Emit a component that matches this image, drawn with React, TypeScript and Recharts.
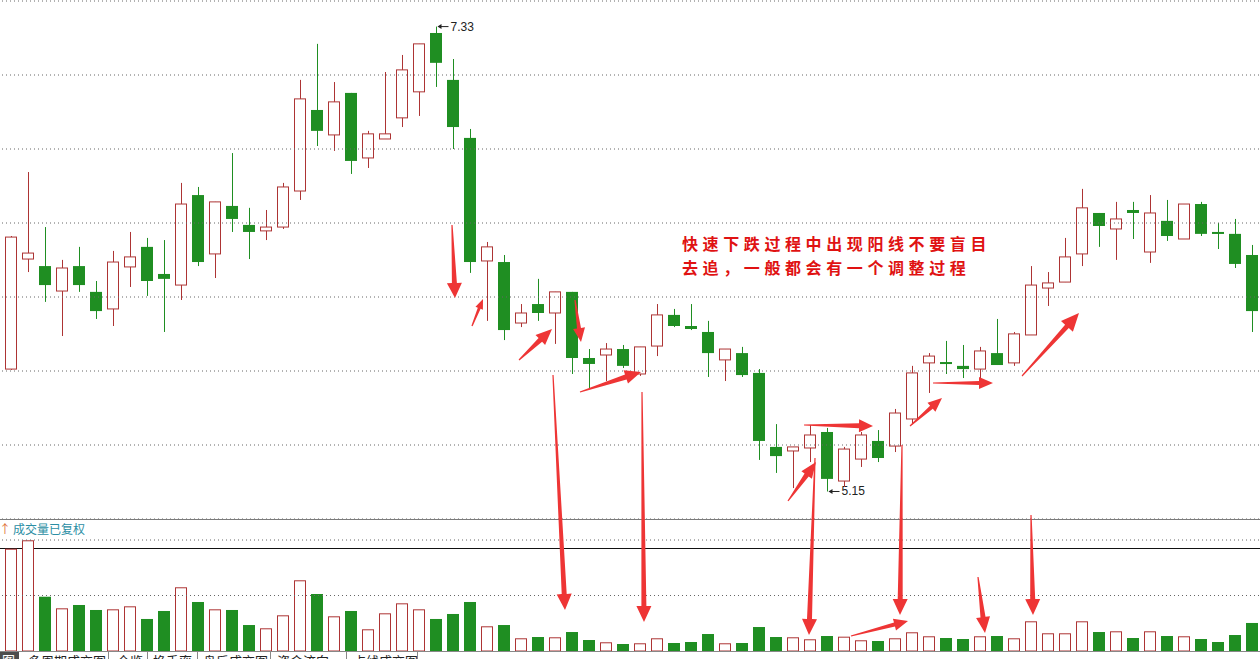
import React from 'react'
import { ComposedChart, Bar, XAxis, YAxis, ReferenceLine } from 'recharts'

// daily OHLC (first entry is the clipped candle at the left edge)
const opens = [6.137, 5.724, 6.240, 6.207, 6.090, 6.207, 6.086, 6.006, 6.203, 6.297, 6.170, 6.118, 6.540, 6.264, 6.489, 6.400, 6.372, 6.390, 6.559, 6.939, 6.822, 7.019, 6.714, 6.803, 6.902, 7.024, 7.300, 7.080, 6.808, 6.231, 6.226, 5.940, 6.029, 5.987, 6.086, 5.776, 5.790, 5.818, 5.701, 5.832, 5.978, 5.926, 5.898, 5.767, 5.799, 5.706, 5.359, 5.340, 5.354, 5.429, 5.199, 5.302, 5.387, 5.363, 5.490, 5.753, 5.757, 5.739, 5.724, 5.799, 5.753, 5.884, 6.104, 6.132, 6.264, 6.456, 6.381, 6.470, 6.273, 6.419, 6.334, 6.498, 6.367, 6.358, 6.259]
const highs = [6.137, 6.348, 6.648, 6.390, 6.236, 6.297, 6.137, 6.278, 6.367, 6.339, 6.329, 6.597, 6.578, 6.508, 6.737, 6.480, 6.470, 6.597, 7.080, 7.249, 7.070, 7.019, 6.841, 7.117, 7.197, 7.249, 7.330, 7.178, 6.850, 6.320, 6.259, 6.029, 6.147, 6.086, 6.086, 5.818, 5.846, 5.837, 5.828, 6.029, 6.006, 6.029, 5.950, 5.818, 5.828, 5.724, 5.466, 5.359, 5.462, 5.448, 5.359, 5.429, 5.438, 5.537, 5.739, 5.799, 5.856, 5.837, 5.828, 5.959, 5.898, 6.207, 6.179, 6.339, 6.569, 6.456, 6.508, 6.508, 6.540, 6.517, 6.498, 6.508, 6.409, 6.428, 6.306]
const lows = [5.720, 5.720, 6.179, 6.039, 5.879, 6.086, 5.959, 5.926, 6.109, 6.067, 5.898, 6.048, 6.207, 6.151, 6.367, 6.240, 6.329, 6.381, 6.517, 6.770, 6.747, 6.639, 6.667, 6.803, 6.859, 6.911, 7.047, 6.756, 6.175, 5.950, 5.860, 5.921, 5.950, 5.842, 5.701, 5.635, 5.668, 5.729, 5.692, 5.785, 5.921, 5.907, 5.687, 5.668, 5.687, 5.298, 5.237, 5.166, 5.288, 5.150, 5.171, 5.265, 5.288, 5.335, 5.466, 5.612, 5.701, 5.682, 5.659, 5.743, 5.739, 5.884, 6.020, 6.132, 6.207, 6.297, 6.236, 6.334, 6.222, 6.325, 6.334, 6.348, 6.287, 6.198, 5.898]
const closes = [5.729, 6.343, 6.268, 6.118, 6.198, 6.118, 5.996, 6.226, 6.250, 6.137, 6.147, 6.498, 6.226, 6.508, 6.428, 6.367, 6.390, 6.578, 6.991, 6.841, 6.977, 6.700, 6.827, 6.827, 7.127, 7.249, 7.160, 6.859, 6.226, 6.297, 5.907, 5.987, 5.987, 6.086, 5.776, 5.748, 5.818, 5.739, 5.828, 5.978, 5.926, 5.912, 5.799, 5.818, 5.696, 5.387, 5.316, 5.359, 5.415, 5.209, 5.349, 5.415, 5.307, 5.518, 5.706, 5.785, 5.748, 5.724, 5.809, 5.743, 5.889, 6.118, 6.128, 6.250, 6.480, 6.395, 6.428, 6.456, 6.456, 6.348, 6.498, 6.358, 6.358, 6.217, 5.996]
const volumes = [66.7, 184.3, 199.5, 97.8, 76.9, 82.9, 73.9, 75.1, 80.5, 57.7, 72.1, 114.8, 88.3, 75.1, 73.9, 46.8, 40.9, 64.3, 127.4, 102.7, 62.5, 72.1, 39.1, 67.9, 85.9, 75.1, 57.7, 66.7, 88.3, 44.5, 46.8, 22.9, 25.2, 24.7, 34.2, 19.8, 15.7, 12.6, 13.9, 22.9, 14.4, 16.2, 30.6, 13.9, 14.4, 43.2, 25.2, 24.7, 21.1, 27, 25.8, 19.3, 18, 22.9, 33.7, 26.5, 23.4, 21.6, 26.5, 27, 22.9, 53.5, 31.9, 31.9, 53.5, 34.2, 35.5, 23.4, 35.5, 27, 26.5, 21.6, 16.2, 28.8, 50.5]

const PRICE_MIN = 5.021
const PRICE_MAX = 7.45
const priceGrid = [5.021, 5.368, 5.715, 6.062, 6.409, 6.756, 7.103, 7.45]
const volGrid = [100, 200]

const noteLines = ['快速下跌过程中出现阳线不要盲目', '去追，一般都会有一个调整过程']
const tabs = [
  { label: '多周期成交图', left: 28 },
  { label: '全览', left: 117 },
  { label: '换手率', left: 153 },
  { label: '盘后成交图', left: 203 },
  { label: '资金流向', left: 277 },
  { label: '点线成交图', left: 353 },
]
const tabSeps = [108, 147, 197, 270, 346, 417]

// hand drawn red arrows over the screenshot
const arrows = [
  { x1: 452, y1: 225, x2: 455, y2: 298, head: 15, hw: 15, sw: 5 },
  { x1: 472, y1: 326, x2: 483, y2: 299, head: 10, hw: 8, sw: 3 },
  { x1: 519, y1: 360, x2: 552, y2: 329, head: 16, hw: 14, sw: 5 },
  { x1: 575, y1: 300, x2: 581, y2: 342, head: 14, hw: 12, sw: 4 },
  { x1: 580, y1: 392, x2: 641, y2: 372, head: 16, hw: 14, sw: 5 },
  { x1: 553, y1: 375, x2: 565, y2: 610, head: 16, hw: 15, sw: 5 },
  { x1: 642, y1: 392, x2: 644, y2: 622, head: 16, hw: 15, sw: 5 },
  { x1: 788, y1: 501, x2: 816, y2: 462, head: 16, hw: 13, sw: 5 },
  { x1: 804, y1: 425, x2: 873, y2: 426, head: 14, hw: 13, sw: 5 },
  { x1: 815, y1: 458, x2: 809, y2: 635, head: 16, hw: 15, sw: 5 },
  { x1: 851, y1: 636, x2: 908, y2: 621, head: 14, hw: 12, sw: 4 },
  { x1: 902, y1: 445, x2: 900, y2: 615, head: 16, hw: 15, sw: 5 },
  { x1: 910, y1: 426, x2: 942, y2: 398, head: 14, hw: 12, sw: 4 },
  { x1: 933, y1: 383, x2: 993, y2: 383, head: 14, hw: 12, sw: 4 },
  { x1: 978, y1: 577, x2: 985, y2: 633, head: 16, hw: 14, sw: 5 },
  { x1: 1031, y1: 515, x2: 1033, y2: 615, head: 16, hw: 15, sw: 5 },
  { x1: 1022, y1: 376, x2: 1079, y2: 313, head: 18, hw: 16, sw: 5 },
]

const RED = '#ad3434'
const GREEN = '#1f8e22'
const ARROW = '#ee3535'

const candles = opens.map((o, i) => ({
  day: 'd' + i,
  open: o,
  high: highs[i],
  low: lows[i],
  close: closes[i],
  range: [lows[i], highs[i]],
  vol: volumes[i],
  up: closes[i] > o,
}))

const maxHigh = Math.max(...highs)
const minLow = Math.min(...lows)

function ExtremeLabel({ x, y, text }: any) {
  return (
    <g>
      <line x1={x + 2} x2={x + 12} y1={y} y2={y} stroke="#222" strokeWidth={1} />
      <path d={`M${x + 1},${y} L${x + 5},${y - 2.5} L${x + 5},${y + 2.5} Z`} fill="#222" />
      <text x={x + 14} y={y} dominantBaseline="central" fontSize={12} fill="#222" fontFamily="Liberation Sans, Arial, sans-serif">{text}</text>
    </g>
  )
}

function Candle(props: any) {
  const { x, y, width, height, payload } = props
  if (!payload) return null
  const top = Math.min(y, y + height)
  const h = Math.abs(height)
  const span = payload.high - payload.low || 1
  const toY = (p: number) => top + ((payload.high - p) / span) * h
  const cx = x + width / 2
  const color = payload.up ? RED : GREEN
  const bTop = toY(Math.max(payload.open, payload.close))
  const bBot = toY(Math.min(payload.open, payload.close))
  return (
    <g>
      <line x1={cx} x2={cx} y1={top} y2={top + h} stroke={color} strokeWidth={1} />
      {payload.up ? (
        <rect x={cx - 6} y={bTop} width={11} height={Math.max(bBot - bTop, 1)} fill="#fff" stroke={color} strokeWidth={1} />
      ) : (
        <rect x={cx - 6.5} y={bTop} width={12} height={Math.max(bBot - bTop, 2)} fill={color} />
      )}
      {payload.high === maxHigh && <ExtremeLabel x={cx} y={top} text={maxHigh.toFixed(2)} />}
      {payload.low === minLow && <ExtremeLabel x={cx} y={top + h} text={minLow.toFixed(2)} />}
    </g>
  )
}

function VolBar(props: any) {
  const { x, y, width, height, payload } = props
  if (!payload) return null
  const cx = x + width / 2
  if (payload.up) {
    return <rect x={cx - 6} y={y + 0.5} width={11} height={Math.max(height - 0.5, 1)} fill="#fff" stroke={RED} strokeWidth={1} />
  }
  return <rect x={cx - 6.5} y={y} width={12} height={height} fill={GREEN} />
}

function arrowPoints(a: any) {
  const dx = a.x2 - a.x1
  const dy = a.y2 - a.y1
  const len = Math.hypot(dx, dy)
  const ux = dx / len, uy = dy / len
  const nx = -uy, ny = ux
  const bx = a.x2 - ux * a.head, by = a.y2 - uy * a.head
  const pts = [
    [a.x1 + nx * 0.6, a.y1 + ny * 0.6],
    [bx + (nx * a.sw) / 2, by + (ny * a.sw) / 2],
    [bx + (nx * a.hw) / 2, by + (ny * a.hw) / 2],
    [a.x2, a.y2],
    [bx - (nx * a.hw) / 2, by - (ny * a.hw) / 2],
    [bx - (nx * a.sw) / 2, by - (ny * a.sw) / 2],
    [a.x1 - nx * 0.6, a.y1 - ny * 0.6],
  ]
  return pts.map(p => p[0].toFixed(1) + ',' + p[1].toFixed(1)).join(' ')
}

export default function App() {
  const cjk = '"Noto Sans CJK SC", sans-serif'
  return (
    <div style={{ position: 'absolute', left: 0, top: 0, width: 1260, height: 659, overflow: 'hidden', background: '#fff' }}>
      {/* price panel */}
      <div style={{ position: 'absolute', left: -14, top: 0 }}>
        <ComposedChart width={1275} height={520} data={candles} margin={{ top: 1, right: 0, bottom: 1, left: 0 }} barCategoryGap={0}>
          <XAxis dataKey="day" hide />
          <YAxis type="number" domain={[PRICE_MIN, PRICE_MAX]} hide allowDataOverflow />
          {priceGrid.map(v => (
            <ReferenceLine key={v} y={v} stroke="#666" strokeDasharray="1 3" />
          ))}
          <Bar dataKey="range" isAnimationActive={false} shape={(p: any) => <Candle {...p} />} />
        </ComposedChart>
      </div>

      <div style={{ position: 'absolute', left: 0, top: 519, width: 1260, height: 1, background: '#7a7a7a' }} />
      <div style={{ position: 'absolute', left: 0, top: 548, width: 1260, height: 1, background: '#111' }} />

      {/* volume panel */}
      <div style={{ position: 'absolute', left: -14, top: 538 }}>
        <ComposedChart width={1275} height={113} data={candles} margin={{ top: 2, right: 0, bottom: 0, left: 0 }} barCategoryGap={0}>
          <XAxis dataKey="day" hide />
          <YAxis type="number" domain={[0, 200]} hide allowDataOverflow />
          {volGrid.map(v => (
            <ReferenceLine key={v} y={v} stroke="#666" strokeDasharray="1 3" />
          ))}
          <Bar dataKey="vol" isAnimationActive={false} shape={(p: any) => <VolBar {...p} />} />
        </ComposedChart>
      </div>

      <div style={{ position: 'absolute', left: -1, top: 521, fontSize: 12, lineHeight: '16px', color: '#e0703a', fontFamily: cjk }}>↑</div>
      <div style={{ position: 'absolute', left: 13, top: 521, fontSize: 12, lineHeight: '16px', color: '#2b8ea4', fontFamily: cjk }}>成交量已复权</div>

      {/* note */}
      {noteLines.map((t, i) => (
        <div key={t} style={{ position: 'absolute', left: 682, top: 234 + i * 23.5, height: 18, color: '#e01212', fontFamily: cjk, fontWeight: 700, fontSize: 16, lineHeight: '18px', letterSpacing: '4.6px', whiteSpace: 'nowrap' }}>
          {t}
        </div>
      ))}

      {/* bottom tabs */}
      <div style={{ position: 'absolute', left: 0, top: 651, width: 1260, height: 8, borderTop: '1px solid #888', background: '#fff', overflow: 'hidden', fontFamily: cjk, fontSize: 13, lineHeight: '16px', color: '#222' }}>
        <div style={{ position: 'absolute', left: 0, top: 0, width: 17, height: 8, background: '#4d4d4d', color: '#fff', paddingLeft: 2 }}>图</div>
        {tabs.map(t => (
          <div key={t.label} style={{ position: 'absolute', left: t.left, top: 1, whiteSpace: 'nowrap' }}>{t.label}</div>
        ))}
        {tabSeps.map(s => (
          <div key={s} style={{ position: 'absolute', left: s, top: 0, width: 1, height: 8, background: '#888' }} />
        ))}
      </div>

      {/* arrows */}
      <svg width={1260} height={659} style={{ position: 'absolute', left: 0, top: 0, pointerEvents: 'none' }}>
        {arrows.map((a, i) => (
          <polygon key={i} points={arrowPoints(a)} fill={ARROW} />
        ))}
      </svg>
    </div>
  )
}
